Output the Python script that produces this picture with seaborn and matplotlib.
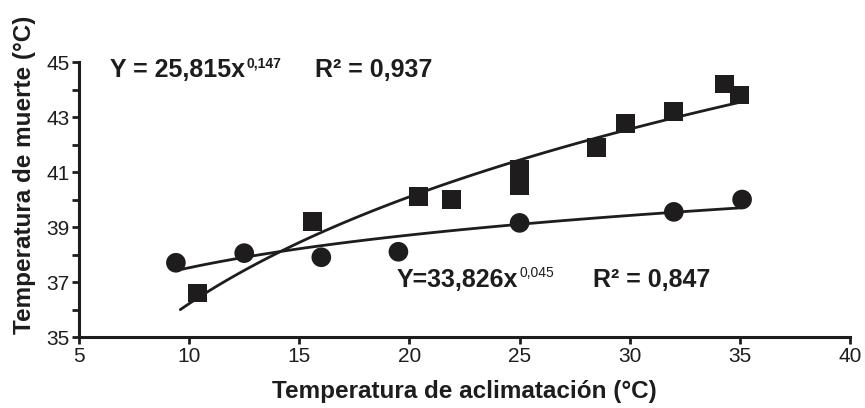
import numpy as np
import pandas as pd
import matplotlib
matplotlib.use('Agg')
import matplotlib.pyplot as plt
import seaborn as sns
from matplotlib.ticker import MultipleLocator

sns.set_style('ticks')
plt.rcParams['font.family'] = ['Liberation Sans', 'DejaVu Sans']

# squares
sq_x = [10.4, 15.6, 20.4, 21.9, 25.0, 25.0, 28.5, 29.8, 32.0, 34.3, 35.0]
sq_y = [36.6, 39.2, 40.1, 40.0, 41.1, 40.5, 41.9, 42.75, 43.2, 44.2, 43.8]
# circles
ci_x = [9.4, 12.5, 16.0, 19.5, 25.0, 32.0, 35.1]
ci_y = [37.7, 38.05, 37.9, 38.1, 39.15, 39.55, 40.0]

# power fits shown on the chart: Y = a * x^b
sq_a, sq_b = 25.815, 0.147
ci_a, ci_b = 33.826, 0.045

squares = pd.DataFrame({'x': sq_x, 'y': sq_y})
circles = pd.DataFrame({'x': ci_x, 'y': ci_y})

xs_sq = np.linspace(9.6, 35.1, 100)
xs_ci = np.linspace(9.5, 35.1, 100)
fit_sq = pd.DataFrame({'x': xs_sq, 'y': sq_a * xs_sq ** sq_b})
fit_ci = pd.DataFrame({'x': xs_ci, 'y': ci_a * xs_ci ** ci_b})

ink = '#1e1c1d'

fig = plt.figure(figsize=(8.65, 4.08), dpi=100)
ax = fig.add_axes([0.0913, 0.174, 0.8914, 0.674])

sns.lineplot(data=fit_sq, x='x', y='y', ax=ax, color=ink, lw=2)
sns.lineplot(data=fit_ci, x='x', y='y', ax=ax, color=ink, lw=2)
sns.scatterplot(data=squares, x='x', y='y', ax=ax, marker='s', s=185,
                color=ink, edgecolor='none', zorder=3)
sns.scatterplot(data=circles, x='x', y='y', ax=ax, marker='o', s=200,
                color=ink, edgecolor='none', zorder=3)

ax.set_xlim(5, 40)
ax.set_ylim(35, 45)
ax.set_xticks(range(5, 41, 5))
ax.set_yticks(range(35, 46, 2))
ax.yaxis.set_minor_locator(MultipleLocator(1))
sns.despine(ax=ax)
for s in ['left', 'bottom']:
    ax.spines[s].set_linewidth(2.2)
    ax.spines[s].set_color(ink)
ax.tick_params(axis='both', which='both', length=5, width=2, color=ink,
               labelsize=15, labelcolor=ink, pad=2)
ax.tick_params(axis='y', which='minor', length=5, width=2)

ax.set_xlabel('Temperatura de aclimatación (°C)', fontsize=17.5, fontweight='bold',
              color=ink, labelpad=10)
ax.set_ylabel('Temperatura de muerte (°C)', fontsize=17.5, fontweight='bold',
              color=ink)
ax.yaxis.set_label_coords(-0.056, 0.59)

t1 = ax.text(6.41, 44.45, 'Y = 25,815x', fontsize=18, fontweight='bold',
             color=ink, va='baseline')
ax.annotate('0,147', xy=(1, 0.6), xycoords=t1, xytext=(1, 0),
            textcoords='offset points', fontsize=10, fontweight='bold',
            color=ink, va='baseline')
ax.text(15.71, 44.45, 'R² = 0,937', fontsize=18, fontweight='bold',
        color=ink, va='baseline')

t2 = ax.text(19.43, 36.82, 'Y=33,826x', fontsize=18, fontweight='bold',
             color=ink, va='baseline')
ax.annotate('0,045', xy=(1, 0.62), xycoords=t2, xytext=(1, 0),
            textcoords='offset points', fontsize=10,
            color=ink, va='baseline')
ax.text(28.33, 36.82, 'R² = 0,847', fontsize=18, fontweight='bold',
        color=ink, va='baseline')

fig.savefig('out.png', dpi=100)
